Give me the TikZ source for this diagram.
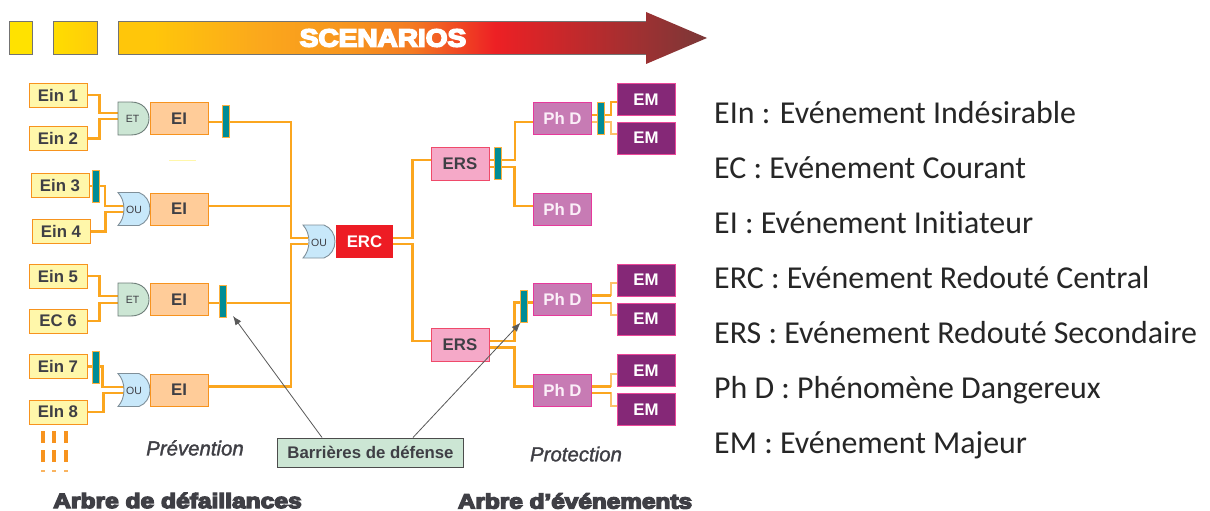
\documentclass[tikz,border=0pt]{standalone}
\usepackage{fontspec}
\setmainfont{Liberation Sans}
\newfontfamily\heavy[BoldFeatures={FakeBold=6}]{Liberation Sans}
\newfontfamily\semi[ItalicFeatures={FakeBold=1.5}]{Liberation Sans}
\newfontfamily\legendfont[Ligatures=NoCommon]{Carlito}
\usetikzlibrary{calc,arrows.meta}
\pgfdeclarelayer{bg}
\pgfsetlayers{bg,main}
\definecolor{wirec}{HTML}{FBA61F}
\definecolor{wiret}{HTML}{FCC26A}
\definecolor{txt}{HTML}{3F3F45}
\definecolor{s1}{HTML}{FFC60A}\definecolor{s2}{HTML}{FBA81C}\definecolor{s3}{HTML}{F7941E}
\definecolor{s4}{HTML}{F47A22}\definecolor{s5}{HTML}{ED2024}\definecolor{s6}{HTML}{7A3838}
\pgfdeclarehorizontalshading{arrowshade}{100bp}{
 color(0bp)=(s1);color(28bp)=(s1);color(37bp)=(s2);color(45bp)=(s3);color(50bp)=(s4);color(57bp)=(s5);color(75bp)=(s6);color(100bp)=(s6)}
\definecolor{cEiD}{HTML}{F7931E}\definecolor{cEiF}{HTML}{FFCC99}\definecolor{cErc}{HTML}{ED1C24}
\definecolor{cErsD}{HTML}{EF4A6A}\definecolor{cErsF}{HTML}{F5A9C8}\definecolor{cPhD}{HTML}{E6399B}
\definecolor{cPhF}{HTML}{C77BB4}\definecolor{cPhT}{HTML}{FBEFF8}\definecolor{cEmD}{HTML}{EC4899}
\definecolor{cEmF}{HTML}{852877}\definecolor{cBarD}{HTML}{FBB040}\definecolor{cBarF}{HTML}{008C95}
\definecolor{cAndF}{HTML}{CCE6D4}\definecolor{cAndD}{HTML}{6D7D78}\definecolor{cOrF}{HTML}{C8E8FA}
\definecolor{cOrD}{HTML}{7F8F99}\definecolor{cEinF}{HTML}{FFF7AA}\definecolor{cSq}{HTML}{FFE200}
\definecolor{cSqA}{HTML}{FFDD00}\definecolor{cSqB}{HTML}{FFCC0A}
\tikzset{
 lab/.style={font=\fontsize{16.8}{18}\selectfont\bfseries,text=txt,inner sep=0pt,minimum height=#1},
 ein/.style={lab=24pt,draw=cEiD,fill=cEinF,line width=1pt,minimum width=58pt},
 ei/.style={lab=32pt,draw=cEiD,fill=cEiF,line width=1pt,minimum width=58pt},
 erc/.style={lab=33pt,fill=cErc,text=white,minimum width=57pt},
 ers/.style={lab=33pt,draw=cErsD,fill=cErsF,line width=1pt,minimum width=58pt},
 phd/.style={lab=32pt,draw=cPhD,fill=cPhF,text=cPhT,line width=1pt,minimum width=58pt},
 em/.style={lab=32pt,draw=cEmD,fill=cEmF,text=white,line width=1pt,minimum width=58pt},
 barrier/.style={draw=cBarD,fill=cBarF,line width=.8pt,minimum width=7pt,minimum height=32pt,inner sep=0pt},
 gatelab/.style={inner sep=0pt,minimum width=32pt,minimum height=32pt},
 gatetext/.style={font=\semi\fontsize{10.5}{12}\selectfont,text=txt,inner sep=0pt},
 wire/.style={draw=wirec,line width=2.6pt,line join=miter},
 midwire/.style={draw=wirec,line width=2pt,line join=miter},
 thinwire/.style={draw=wiret,line width=1.2pt},
 andfill/.style={fill=cAndF,draw=cAndD,line width=.9pt},
 orfill/.style={fill=cOrF,draw=cOrD,line width=.9pt},
 point/.style={draw=black!65,line width=.8pt,-{Latex[length=9pt,width=7pt]}},
 leg/.style={font=\legendfont\fontsize{31.9}{34}\selectfont,text=black!85,anchor=base west,inner sep=0pt},
 square/.style={draw=black!55,line width=.9pt}
}
\newcommand{\andgate}[3]{% name, left x, centre y
 \draw[andfill] (#2,#3-16.5) -- (#2+13,#3-16.5) .. controls (#2+25,#3-16.5) and (#2+31,#3-8) .. (#2+31,#3)
 .. controls (#2+31,#3+8) and (#2+25,#3+16.5) .. (#2+13,#3+16.5) -- (#2,#3+16.5) -- cycle;
 \node[gatelab] (#1) at (#2+16,#3) {};
 \node[gatetext] at (#2+14.5,#3+.5) {ET};
}
\newcommand{\orgate}[3]{% name, left x, centre y
 \draw[orfill] (#2,#3-16.5) -- (#2+21,#3-16.5) .. controls (#2+28,#3-14) and (#2+32,#3-7) .. (#2+32,#3)
 .. controls (#2+32,#3+7) and (#2+28,#3+14) .. (#2+21,#3+16.5) -- (#2,#3+16.5)
 .. controls (#2+8,#3+8) and (#2+8,#3-8) .. (#2,#3-16.5) -- cycle;
 \node[gatelab] (#1) at (#2+16,#3) {};
 \node[gatetext] at (#2+16,#3+1) {OU};
}
\begin{document}
\begin{tikzpicture}[x=1pt,y=-1pt]
\useasboundingbox (0,0) rectangle (1210,511);
\begin{pgfonlayer}{bg}
\fill[white] (0,0) rectangle (1210,511);
\end{pgfonlayer}
% top band
\shade[shading=arrowshade] (118,21.5) -- (646,21.5) -- (646,12) -- (707,38) -- (646,64) -- (646,54) -- (118,54) -- cycle;
\draw[black!55,line width=.9pt] (646,21.5) -- (118,21.5) -- (118,54) -- (646,54);
\draw[square,fill=cSq] (9.5,21.5) rectangle (32,54);
\draw[square,left color=cSqA,right color=cSqB] (53,21.5) rectangle (97,54);
\node[font=\heavy\bfseries\fontsize{25}{28}\selectfont,text=white,inner sep=0pt] (scen) at (383,38) {\scalebox{1.12}[1]{SCENARIOS}};
% left leaves
\node[ein] (e1) at (58,95) {Ein 1};
\node[ein] (e2) at (58,138.5) {Ein 2};
\node[ein] (e3) at (60,185.5) {Ein 3};
\node[ein] (e4) at (61,231.5) {Ein 4};
\node[ein] (e5) at (58,276) {Ein 5};
\node[ein] (e6) at (58,321) {EC 6};
\node[ein] (e7) at (58,366.5) {Ein 7};
\node[ein] (e8) at (58,412) {EIn 8};
% gates and EI
\andgate{g1}{118}{118.5}
\orgate{g2}{118}{209}
\andgate{g3}{118}{299.5}
\orgate{g4}{118}{390}
\orgate{gc}{303}{241.5}
\node[ei] (i1) at (179,118.5) {EI};
\node[ei] (i2) at (179,209) {EI};
\node[ei] (i3) at (179,299.5) {EI};
\node[ei] (i4) at (179,390) {EI};
\node[erc] (erc) at (364.5,241.5) {ERC};
\node[ers] (ers1) at (460,163.5) {ERS};
\node[ers] (ers2) at (460,345) {ERS};
\node[phd] (p1) at (562.5,118.5) {Ph D};
\node[phd] (p2) at (562.5,209) {Ph D};
\node[phd] (p3) at (562.5,299.5) {Ph D};
\node[phd] (p4) at (562.5,390) {Ph D};
\node[em] (m1) at (646,99.5) {EM};
\node[em] (m2) at (646,138) {EM};
\node[em] (m3) at (646,280) {EM};
\node[em] (m4) at (646,319) {EM};
\node[em] (m5) at (646,370.5) {EM};
\node[em] (m6) at (646,409.5) {EM};
% barriers
\node[barrier] (b1) at (226,121.5) {};
\node[barrier] (b2) at (96,186) {};
\node[barrier] (b3) at (222.5,301) {};
\node[barrier] (b4) at (96,367) {};
\node[barrier] (b5) at (498,163.5) {};
\node[barrier] (b6) at (600.5,118.5) {};
\node[barrier] (b7) at (523.5,306) {};
\coordinate (tr) at (291,238);
\coordinate (trb) at (291,244);
\begin{pgfonlayer}{bg}
 \draw[wire] (e1.east) -- ++(12,0) |- ([yshift=5.5pt]g1.west);
 \draw[wire] (e2.east) -- ++(12,0) |- ([yshift=-.5pt]g1.west);
 \draw[midwire] (e3.east) -- ++(15,0) |- ([xshift=6pt,yshift=3pt]g2.west);
 \draw[wire] (e4.east) -- ++(15,0) |- ([xshift=6pt,yshift=-3pt]g2.west);
 \draw[wire] (e5.east) -- ++(12,0) |- ([yshift=3.5pt]g3.west);
 \draw[wire] (e6.east) -- ++(12,0) |- ([yshift=-3.5pt]g3.west);
 \draw[wire] (e7.east) -- ++(15,0) |- ([xshift=6pt,yshift=3pt]g4.west);
 \draw[wire] (e8.east) -- ++(16,0) |- ([xshift=6pt,yshift=-3pt]g4.west);
 \draw[wire] ([yshift=-3.5pt]i1.east) -| (tr) -- ([xshift=5pt,yshift=3.5pt]gc.west);
 \draw[wire] ([yshift=3.5pt]i4.east) -| (trb) -- ([xshift=5pt,yshift=-2.5pt]gc.west);
 \draw[midwire] ([yshift=3pt]i2.east) -- ++(83,0);
 \draw[midwire] ([yshift=-3pt]i3.east) -- ++(83,0);
 \draw[wire] ([yshift=3.5pt]erc.east) -- ++(19,0) |- ([yshift=3.5pt]ers1.west);
 \draw[wire] ([yshift=-2.5pt]erc.east) -- ++(19,0) |- ([yshift=4pt]ers2.west);
 \draw[midwire] ([yshift=3.5pt]ers1.east) -- ++(25,0) |- ([yshift=-3.5pt]p1.west);
 \draw[wire] ([yshift=-3.5pt]ers1.east) -- ++(25,0) |- ([yshift=3pt]p2.west);
 \draw[wire] ([yshift=4pt]ers2.east) -- ++(25,0) |- ([yshift=-3pt]p3.west);
 \draw[wire] ([yshift=-2.5pt]ers2.east) -- ++(25,0) |- ([yshift=3.5pt]p4.west);
 \draw[midwire] ([yshift=3.5pt]p1.east) -- ++(19,0) |- ([yshift=-2.5pt]m1.west);
 \draw[thinwire] ([yshift=-3.5pt]p1.east) -- ++(19,0) |- ([yshift=4pt]m2.west);
 \draw[thinwire] ([yshift=4pt]p3.east) -- ++(19,0) |- ([yshift=-3pt]m3.west);
 \draw[wire] ([yshift=4pt]p3.east) -- ++(19,0);
 \draw[thinwire] ([yshift=-3pt]p3.east) -- ++(19,0) |- ([yshift=4pt]m4.west);
 \draw[midwire] ([yshift=-3pt]p3.east) -- ++(19,0);
 \draw[thinwire] ([yshift=3.5pt]p4.east) -- ++(19,0) |- ([yshift=-3.5pt]m5.west);
 \draw[wire] ([yshift=3.5pt]p4.east) -- ++(19,0);
 \draw[thinwire] ([yshift=-3pt]p4.east) -- ++(19,0) |- ([yshift=3.5pt]m6.west);
 \draw[midwire] ([yshift=-3pt]p4.east) -- ++(19,0);
\end{pgfonlayer}
% decorations
\draw[cEinF,line width=1pt] (169,160.5) -- (196,160.5);
\foreach \cx in {43,54,66}{
 \fill[cEiD] (\cx-2,431) rectangle (\cx+2,443);
 \fill[cEiD] (\cx-2,450) rectangle (\cx+2,461.5);
 \fill[cEiD!70] (\cx-2,470) rectangle (\cx+2,471.5);
}
% bottom labels
\node[font=\semi\itshape\fontsize{20.4}{22}\selectfont,text=txt,inner sep=0pt] (prev) at (195,448) {Prévention};
\node[font=\semi\itshape\fontsize{20.4}{22}\selectfont,text=txt,inner sep=0pt] (prot) at (576,454) {Protection};
\node[draw=black!70,fill=cAndF,line width=1pt,minimum width=186pt,minimum height=29.5pt,inner sep=0pt,
 font=\fontsize{16.8}{18}\selectfont\bfseries,text=txt] (bar) at (370.5,452.75) {Barrières de défense};
\coordinate (tipa) at (233,316);
\coordinate (tipb) at (520.5,322.7);
\draw[point] ([xshift=-48.5pt]bar.north) -- (tipa);
\draw[point] ([xshift=42.5pt]bar.north) -- (tipb);
\node[font=\heavy\bfseries\fontsize{21}{24}\selectfont,text=txt,inner sep=0pt] (t1) at (177.5,500.5) {\scalebox{1.17}[1]{Arbre de défaillances}};
\node[font=\heavy\bfseries\fontsize{21}{24}\selectfont,text=txt,inner sep=0pt] (t2) at (575,501) {\scalebox{1.16}[1]{Arbre d’événements}};
% legend
\node[leg] (l1) at (714,123) {EIn : Evénement Indésirable};
\node[leg] (l2) at (714,178) {EC : Evénement Courant};
\node[leg] (l3) at (714,233) {EI : Evénement Initiateur};
\node[leg] (l4) at (714,288) {ERC : Evénement Redouté Central};
\node[leg] (l5) at (714,343) {ERS : Evénement Redouté Secondaire};
\node[leg] (l6) at (714,398) {Ph D : Phénomène Dangereux};
\node[leg] (l7) at (714,453) {EM : Evénement Majeur};
\end{tikzpicture}
\end{document}
